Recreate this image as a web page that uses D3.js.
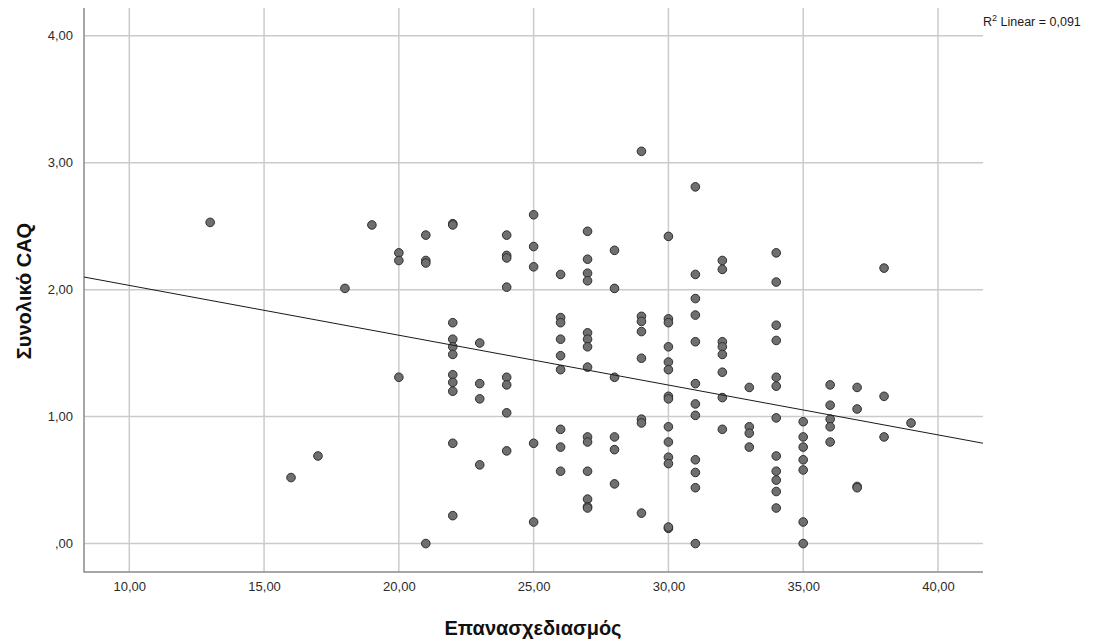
<!DOCTYPE html>
<html>
<head>
<meta charset="utf-8">
<script src="https://cdn.jsdelivr.net/npm/d3@7"></script>
<style>
  html, body { margin: 0; padding: 0; background: #fff; }
  svg { display: block; font-family: "Liberation Sans", Arial, sans-serif; }
</style>
</head>
<body>
<svg id="chart" width="1100" height="644"></svg>
<script>
// Επανασχεδιασμός scores (x) and Συνολικό CAQ scores (y), one entry per respondent
const redesign = [
  13, 16, 17, 18, 19,
  20, 20, 20,
  21, 21, 21, 21,
  22, 22, 22, 22, 22, 22, 22, 22, 22, 22, 22,
  23, 23, 23, 23,
  24, 24, 24, 24, 24, 24, 24, 24,
  25, 25, 25, 25, 25,
  26, 26, 26, 26, 26, 26, 26, 26, 26,
  27, 27, 27, 27, 27, 27, 27, 27, 27, 27, 27, 27, 27, 27,
  28, 28, 28, 28, 28, 28,
  29, 29, 29, 29, 29, 29, 29, 29,
  30, 30, 30, 30, 30, 30, 30, 30, 30, 30, 30, 30, 30, 30,
  31, 31, 31, 31, 31, 31, 31, 31, 31, 31, 31, 31,
  32, 32, 32, 32, 32, 32, 32, 32,
  33, 33, 33, 33,
  34, 34, 34, 34, 34, 34, 34, 34, 34, 34, 34, 34,
  35, 35, 35, 35, 35, 35, 35,
  36, 36, 36, 36, 36,
  37, 37, 37, 37,
  38, 38, 38,
  39
];
const caqTotal = [
  2.53, 0.52, 0.69, 2.01, 2.51,
  2.29, 2.23, 1.31,
  2.43, 2.23, 2.21, 0.00,
  2.52, 2.51, 1.74, 1.61, 1.55, 1.49, 1.33, 1.27, 1.20, 0.79, 0.22,
  1.58, 1.26, 1.14, 0.62,
  2.43, 2.27, 2.25, 2.02, 1.31, 1.25, 1.03, 0.73,
  2.59, 2.34, 2.18, 0.79, 0.17,
  2.12, 1.78, 1.74, 1.61, 1.48, 1.37, 0.90, 0.76, 0.57,
  2.46, 2.24, 2.13, 2.07, 1.66, 1.61, 1.55, 1.39, 0.84, 0.80, 0.57, 0.35, 0.29, 0.28,
  2.31, 2.01, 1.31, 0.84, 0.74, 0.47,
  3.09, 1.79, 1.75, 1.67, 1.46, 0.98, 0.95, 0.24,
  2.42, 1.77, 1.74, 1.55, 1.43, 1.37, 1.16, 1.14, 0.92, 0.80, 0.68, 0.63, 0.12, 0.13,
  2.81, 2.12, 1.93, 1.80, 1.59, 1.26, 1.10, 1.01, 0.66, 0.56, 0.44, 0.00,
  2.23, 2.16, 1.59, 1.55, 1.49, 1.35, 1.15, 0.90,
  1.23, 0.92, 0.87, 0.76,
  2.29, 2.06, 1.72, 1.60, 1.31, 1.24, 0.99, 0.69, 0.57, 0.50, 0.41, 0.28,
  0.96, 0.84, 0.76, 0.66, 0.58, 0.17, 0.00,
  1.25, 1.09, 0.98, 0.92, 0.80,
  1.23, 1.06, 0.45, 0.44,
  2.17, 1.16, 0.84,
  0.95
];
const xTicks = [10, 15, 20, 25, 30, 35, 40];
const yTicks = [0, 1, 2, 3, 4];
const xTitle = "Επανασχεδιασμός";
const yTitle = "Συνολικό CAQ";
const r2Label = "0,091";

const svg = d3.select("#chart");
const plot = { left: 84, right: 983, top: 8, bottom: 572 };

const x = d3.scaleLinear().domain([8.32, 41.67]).range([plot.left, plot.right]);
const y = d3.scaleLinear().domain([-0.224, 4.219]).range([plot.bottom, plot.top]);

const fmt = v => v === 0 ? ",00" : d3.format(".2f")(v).replace(".", ",");

// grid lines
const grid = svg.append("g");
grid.selectAll("line.gx").data(xTicks).join("line")
  .attr("x1", d => x(d)).attr("x2", d => x(d))
  .attr("y1", plot.top).attr("y2", plot.bottom)
  .attr("stroke", "#cbcbcb").attr("stroke-width", 1.5);
grid.selectAll("line.gy").data(yTicks).join("line")
  .attr("x1", plot.left).attr("x2", plot.right)
  .attr("y1", d => y(d)).attr("y2", d => y(d))
  .attr("stroke", "#cbcbcb").attr("stroke-width", 1.5);

// axes (no tick marks, labels only)
const xAxis = d3.axisBottom(x).tickValues(xTicks).tickFormat(fmt).tickSize(0).tickPadding(10);
const yAxis = d3.axisLeft(y).tickValues(yTicks).tickFormat(fmt).tickSize(0).tickPadding(11);

const gx = svg.append("g").attr("transform", `translate(0,${plot.bottom})`).call(xAxis);
const gy = svg.append("g").attr("transform", `translate(${plot.left},0)`).call(yAxis);
[gx, gy].forEach(g => {
  g.select(".domain").remove();
  g.selectAll("text").attr("fill", "#2b2b2b").style("font-size", "13px")
    .style("font-family", "'Liberation Sans', Arial, sans-serif");
});

svg.append("line").attr("x1", plot.left).attr("x2", plot.left)
  .attr("y1", plot.top).attr("y2", plot.bottom + 0.5)
  .attr("stroke", "#8a8a8a").attr("stroke-width", 1.5);
svg.append("line").attr("x1", plot.left).attr("x2", plot.right)
  .attr("y1", plot.bottom).attr("y2", plot.bottom)
  .attr("stroke", "#8a8a8a").attr("stroke-width", 1.5);

// points
const pts = redesign.map((v, i) => ({ x: v, y: caqTotal[i] }));
svg.append("g").selectAll("circle").data(pts).join("circle")
  .attr("cx", d => x(d.x)).attr("cy", d => y(d.y)).attr("r", 4.3)
  .attr("fill", "#6f6f6f").attr("stroke", "#2e2e2e").attr("stroke-width", 1);

// least-squares fit line
const mx = d3.mean(pts, d => d.x), my = d3.mean(pts, d => d.y);
const sxy = d3.sum(pts, d => (d.x - mx) * (d.y - my));
const sxx = d3.sum(pts, d => (d.x - mx) ** 2);
const slope = sxy / sxx, intercept = my - slope * mx;
const [x0, x1] = x.domain();
svg.append("line")
  .attr("x1", x(x0)).attr("y1", y(intercept + slope * x0))
  .attr("x2", x(x1)).attr("y2", y(intercept + slope * x1))
  .attr("stroke", "#1a1a1a").attr("stroke-width", 1);

// fit annotation
const ann = svg.append("text").attr("x", 983).attr("y", 26)
  .attr("fill", "#1a1a1a").style("font-size", "12.5px");
ann.append("tspan").text("R");
ann.append("tspan").attr("dy", -5).style("font-size", "9px").text("2");
ann.append("tspan").attr("dy", 5).text(" Linear = " + r2Label);

// axis titles
svg.append("text").attr("x", 533).attr("y", 635)
  .attr("text-anchor", "middle").attr("fill", "#111")
  .style("font-size", "20px").style("font-weight", "bold").text(xTitle);
svg.append("text").attr("transform", "translate(31,291) rotate(-90)")
  .attr("text-anchor", "middle").attr("fill", "#111")
  .style("font-size", "20px").style("font-weight", "bold").text(yTitle);
</script>
</body>
</html>
